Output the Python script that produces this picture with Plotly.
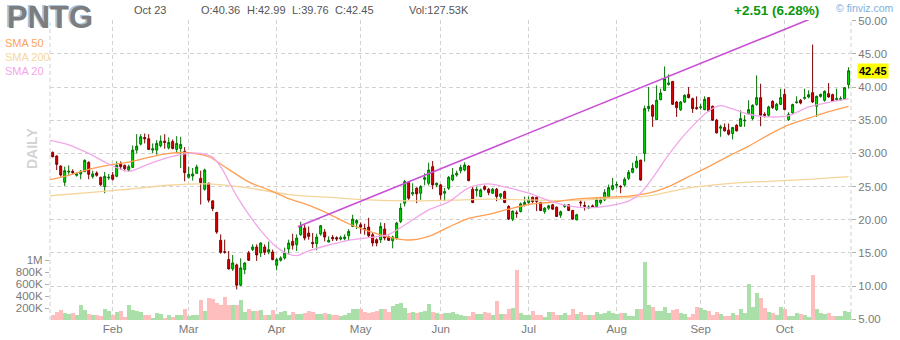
import plotly.graph_objects as go

# ---------------- data ----------------
month_labels = ["Feb", "Mar", "Apr", "May", "Jun", "Jul", "Aug", "Sep", "Oct"]
month_start_idx = [15, 34, 56, 77, 97, 119, 141, 162, 183]

opens = [30.15, 29.6, 28.1, 25.65, 27.2, 27.3, 26.7, 26.9, 27.25, 28.65,
         26.5, 27.05, 26.4, 25.0, 26.3, 26.75, 26.55, 28.45, 28.2, 27.5,
         27.9, 30.5, 31.4, 32.4, 32.2, 30.5, 30.5, 31.15, 31.85, 30.85,
         31.8, 30.6, 30.75, 30.3, 26.4, 26.6, 27.0, 26.25, 24.6, 25.5,
         22.85, 21.1, 16.9, 15.2, 14.0, 12.6, 13.2, 10.15, 12.5, 15.0,
         15.5, 15.9, 15.0, 15.9, 15.15, 15.15, 13.15, 13.9, 14.25, 15.6,
         16.75, 16.25, 17.75, 18.75, 18.0, 16.6, 16.4, 17.85, 18.15, 16.65,
         17.35, 17.3, 17.1, 17.15, 17.6, 19.0, 19.5, 19.25, 18.7, 18.9,
         17.75, 17.0, 17.0, 18.6, 17.4, 16.85, 17.25, 19.75, 22.5, 25.6,
         23.9, 24.75, 24.0, 26.1, 25.5, 28.0, 25.25, 25.25, 24.0, 24.75,
         26.0, 26.75, 27.4, 27.5, 28.1, 24.6, 24.4, 23.5, 25.0, 24.6,
         24.0, 24.6, 23.5, 24.25, 22.0, 20.1, 21.05, 21.25, 22.25, 22.6,
         23.4, 23.4, 22.6, 21.25, 21.75, 22.25, 21.9, 20.7, 22.0, 22.25,
         21.4, 20.0, 22.65, 22.15, 21.8, 22.1, 22.0, 22.6, 23.0, 23.5,
         24.6, 25.2, 25.05, 25.25, 26.25, 27.15, 27.9, 29.0, 30.0, 36.75,
         37.25, 35.1, 38.1, 39.5, 40.4, 40.85, 37.75, 36.6, 37.75, 38.9,
         38.25, 36.9, 36.9, 36.6, 38.4, 37.1, 35.0, 33.8, 33.9, 33.5,
         33.0, 34.25, 34.1, 34.9, 36.0, 35.25, 37.35, 38.4, 35.9, 35.75,
         37.85, 36.6, 37.4, 38.9, 35.1, 36.1, 37.65, 38.0, 38.3, 38.5,
         39.15, 37.1, 38.6, 38.0, 39.0, 38.85, 38.1, 38.1, 38.25, 40.36]

highs = [30.3, 29.7, 28.2, 28.0, 28.2, 27.6, 27.1, 27.5, 29.1, 28.8,
         27.4, 27.3, 26.5, 27.2, 26.9, 27.2, 28.8, 28.8, 28.3, 28.3,
         31.2, 32.9, 32.9, 33.0, 32.9, 31.5, 32.0, 32.7, 32.9, 32.4,
         32.1, 32.6, 32.5, 30.95, 28.0, 27.8, 28.3, 27.4, 27.7, 25.6,
         22.9, 21.2, 17.8, 17.0, 15.3, 14.7, 13.4, 14.2, 13.6, 15.3,
         16.3, 16.3, 16.6, 16.3, 16.7, 15.5, 14.3, 14.5, 15.8, 17.0,
         17.9, 17.8, 19.7, 19.2, 19.0, 18.0, 17.9, 19.2, 18.6, 17.5,
         17.7, 17.5, 17.6, 17.8, 18.6, 20.75, 20.1, 19.6, 19.4, 20.3,
         18.0, 17.2, 19.6, 19.5, 17.6, 17.6, 19.7, 22.5, 26.0, 25.8,
         25.5, 24.9, 25.2, 27.0, 28.6, 28.85, 25.6, 25.4, 24.8, 26.6,
         27.8, 27.4, 28.3, 28.65, 28.2, 25.0, 25.0, 24.7, 25.2, 24.8,
         24.8, 24.8, 24.0, 24.4, 22.2, 21.4, 21.4, 22.6, 23.5, 23.5,
         23.5, 23.5, 22.7, 21.9, 22.25, 22.4, 22.0, 21.4, 22.4, 22.3,
         21.5, 20.9, 23.0, 22.75, 22.2, 22.3, 23.3, 23.3, 24.6, 25.3,
         26.3, 25.75, 25.2, 26.4, 27.5, 28.6, 29.6, 29.0, 37.2, 40.0,
         37.4, 40.25, 39.75, 43.1, 41.9, 40.9, 37.9, 37.9, 38.9, 40.0,
         38.4, 38.6, 37.5, 38.6, 38.5, 37.2, 35.2, 34.3, 34.5, 34.5,
         34.0, 34.4, 36.5, 35.75, 38.0, 37.4, 41.75, 40.5, 36.2, 37.2,
         38.0, 37.6, 39.75, 39.75, 36.2, 37.5, 38.6, 38.2, 39.75, 39.5,
         46.4, 38.7, 39.0, 39.5, 40.6, 39.0, 39.75, 38.6, 40.0, 42.99]

lows = [29.4, 27.5, 26.5, 25.1, 26.8, 26.9, 26.5, 26.1, 27.2, 26.1,
        26.2, 26.5, 25.1, 24.0, 26.0, 25.9, 26.4, 27.5, 27.3, 27.2,
        27.8, 30.0, 31.2, 31.5, 30.5, 30.0, 29.8, 30.9, 30.7, 30.6,
        30.6, 30.1, 27.8, 25.8, 26.2, 25.9, 26.9, 22.3, 24.4, 22.6,
        21.3, 17.9, 14.9, 14.9, 12.5, 12.3, 9.5, 10.0, 11.8, 13.8,
        15.3, 13.8, 14.4, 14.7, 14.8, 13.9, 12.4, 13.7, 14.0, 14.8,
        15.5, 15.3, 17.6, 16.9, 17.0, 15.75, 15.4, 17.6, 16.75, 16.6,
        16.8, 16.8, 16.9, 16.9, 16.8, 18.9, 18.6, 17.9, 17.75, 17.3,
        16.0, 16.0, 16.5, 16.9, 16.8, 15.7, 17.0, 19.5, 22.0, 23.0,
        23.6, 22.5, 23.0, 25.2, 25.2, 24.6, 24.9, 23.0, 22.8, 24.5,
        25.8, 26.5, 27.0, 27.3, 25.8, 22.5, 23.5, 23.4, 24.4, 23.7,
        23.9, 22.8, 23.1, 22.5, 20.0, 19.8, 20.3, 21.1, 22.0, 22.4,
        22.5, 21.3, 21.3, 20.9, 21.5, 21.5, 20.4, 20.3, 21.8, 21.3,
        20.0, 19.9, 22.0, 21.4, 21.6, 21.8, 21.9, 22.3, 22.8, 23.4,
        24.4, 24.75, 24.0, 25.0, 26.0, 27.0, 27.7, 25.9, 28.75, 36.3,
        34.0, 35.0, 38.0, 39.4, 40.2, 37.3, 35.5, 36.4, 37.6, 38.3,
        36.1, 36.6, 36.6, 36.5, 36.3, 34.9, 33.0, 32.5, 33.3, 32.7,
        32.1, 33.3, 34.0, 34.0, 35.9, 35.0, 37.2, 34.1, 35.4, 35.5,
        36.7, 36.4, 37.3, 36.5, 34.9, 35.9, 37.5, 37.4, 38.1, 38.3,
        37.6, 35.5, 38.4, 37.8, 38.4, 37.8, 37.9, 37.9, 38.1, 39.76]

closes = [29.5, 28.35, 26.75, 27.4, 27.3, 27.1, 26.9, 27.2, 28.95, 26.85,
          26.9, 26.7, 25.3, 26.55, 26.4, 26.1, 28.2, 28.0, 27.7, 28.0,
          30.5, 31.1, 32.5, 32.2, 30.6, 30.7, 31.5, 31.85, 31.65, 31.65,
          30.75, 31.5, 31.35, 27.1, 26.85, 26.9, 27.95, 25.6, 27.5, 22.95,
          21.7, 18.15, 15.1, 15.1, 12.6, 13.5, 10.15, 12.75, 13.5, 13.9,
          15.9, 14.7, 16.5, 15.1, 15.5, 14.0, 14.0, 14.25, 15.0, 16.5,
          16.15, 17.25, 19.1, 17.25, 17.5, 16.4, 17.4, 19.1, 17.4, 16.9,
          17.15, 17.1, 17.3, 17.4, 18.25, 20.1, 19.9, 18.9, 18.5, 17.6,
          16.5, 16.5, 19.0, 17.25, 16.9, 17.4, 19.5, 21.75, 25.75, 23.25,
          24.1, 23.9, 25.0, 26.35, 27.5, 25.25, 25.5, 23.75, 24.25, 26.4,
          26.75, 27.0, 27.9, 28.25, 25.9, 22.6, 24.6, 24.5, 24.6, 24.1,
          24.6, 23.5, 23.9, 22.6, 20.1, 21.3, 20.95, 22.4, 22.6, 23.0,
          22.75, 22.75, 21.4, 21.75, 22.1, 21.6, 20.5, 21.2, 22.15, 21.4,
          20.1, 20.75, 22.55, 22.05, 21.9, 21.9, 23.0, 23.0, 24.1, 24.85,
          25.15, 25.3, 24.95, 26.1, 27.15, 27.75, 28.85, 26.0, 36.75, 37.1,
          35.6, 38.0, 39.1, 41.25, 40.6, 37.4, 36.9, 37.75, 38.75, 38.4,
          36.75, 36.75, 37.0, 38.15, 36.4, 35.0, 33.1, 34.0, 33.4, 32.9,
          33.9, 33.4, 35.25, 35.0, 36.6, 37.25, 38.4, 35.75, 35.75, 37.0,
          36.9, 37.4, 38.4, 36.6, 35.85, 37.35, 37.75, 37.6, 38.4, 38.85,
          37.75, 38.6, 38.9, 39.35, 38.5, 37.9, 38.25, 38.25, 39.9, 42.45]

volume_k = [83, 139, 167, 111, 100, 111, 83, 250, 167, 100,
            83, 78, 67, 178, 156, 83, 139, 156, 56, 250,
            167, 150, 133, 78, 83, 33, 111, 94, 33, 78,
            56, 78, 78, 183, 67, 78, 78, 333, 150, 367,
            344, 289, 250, 389, 250, 244, 244, 333, 128, 178,
            156, 150, 167, 89, 89, 167, 100, 139, 150, 83,
            133, 100, 100, 111, 150, 133, 100, 100, 111, 100,
            89, 83, 67, 89, 111, 178, 178, 178, 133, 111,
            133, 156, 178, 178, 133, 233, 261, 278, 200, 111,
            139, 111, 133, 156, 267, 133, 111, 100, 111, 111,
            133, 94, 78, 72, 72, 133, 94, 94, 133, 111,
            83, 317, 94, 100, 189, 200, 833, 111, 83, 83,
            150, 83, 83, 56, 133, 133, 78, 78, 111, 83,
            183, 100, 133, 78, 78, 83, 128, 100, 111, 144,
            122, 100, 122, 122, 67, 67, 183, 189, 970, 250,
            222, 156, 156, 222, 122, 167, 178, 111, 100, 44,
            100, 211, 200, 167, 156, 83, 139, 100, 67, 67,
            111, 83, 183, 122, 600, 222, 444, 361, 194, 139,
            111, 83, 211, 178, 67, 67, 122, 100, 83, 44,
            750, 178, 122, 100, 122, 67, 67, 67, 156, 128]

sma20_idx = [-1, 4, 9, 14, 19, 24, 29, 34, 37, 40, 42, 44, 46, 49, 52, 55, 58, 61,
             64, 69, 74, 79, 84, 89, 94, 99, 104, 109, 114, 119, 124, 129, 134,
             139, 144, 147, 150, 154, 159, 164, 167, 170, 174, 179, 184, 189, 194, 199]
sma20_val = [32.0, 31.3, 30.0, 28.4, 27.3, 28.4, 29.4, 30.0, 30.0, 29.4, 28.0, 25.8,
             23.6, 20.8, 18.4, 16.4, 15.1, 14.6,
             15.3, 16.2, 16.9, 17.3, 17.8, 19.6, 21.5, 22.7, 24.8, 25.4, 24.8, 24.0,
             22.9, 22.1, 21.8, 22.1, 22.8, 24.0, 26.3, 29.8, 33.5, 36.4, 37.2, 36.7,
             35.9, 35.5, 35.7, 37.0, 37.7, 38.2]

sma50_idx = [-1, 4, 9, 14, 19, 24, 29, 34, 39, 44, 49, 54, 59, 64, 69, 74, 79, 84,
             89, 94, 99, 104, 109, 114, 119, 124, 129, 134, 139, 144, 149, 154,
             159, 164, 169, 174, 179, 184, 189, 194, 199]
sma50_val = [26.0, 26.7, 27.6, 28.25, 28.7, 29.4, 30.0, 30.1, 29.5, 27.6, 25.7, 24.5,
             23.2, 22.2, 20.9, 19.4, 18.3, 17.4, 16.95, 17.5, 18.9, 20.2, 20.8, 21.6,
             22.3, 22.6, 23.0, 23.25, 23.4, 23.55, 24.0, 25.0, 26.5, 28.0, 29.6, 31.1,
             32.8, 34.3, 35.3, 36.3, 37.1]

sma200_idx = [-1, 9, 19, 29, 39, 49, 59, 69, 79, 89, 99, 109, 119, 129, 139, 149,
              159, 169, 179, 189, 199]
sma200_val = [23.6, 24.1, 24.6, 25.2, 25.4, 24.8, 23.8, 23.4, 23.0, 22.85, 22.95,
              23.1, 23.0, 22.9, 23.2, 23.6, 24.8, 25.45, 25.8, 26.1, 26.5]

trend_idx = [61.3, 199]
trend_val = [18.96, 52.6]

price_ticks = [5, 10, 15, 20, 25, 30, 35, 40, 45, 50]
vol_ticks_k = [200, 400, 600, 800, 1000]
vol_tick_labels = ["200K", "400K", "600K", "800K", "1M"]

last_close = closes[-1]

# ---------------- figure ----------------
FONT = "Arial, 'Liberation Sans', Helvetica, sans-serif"
W, H = 900, 340
ML, MR, MT, MB = 50, 49, 20, 20
PW, PH = W - ML - MR, H - MT - MB


def px(x):
    return (x - ML) / PW


def py(y):
    return (H - MB - y) / PH


bar_x = list(range(len(opens)))
vol_colors = ["#aadfaa" if c >= o else "#ffbebe" for o, c in zip(opens, closes)]

fig = go.Figure()
fig.add_trace(go.Bar(x=bar_x, y=[v * 1000 for v in volume_k], yaxis="y",
                     marker=dict(color=vol_colors, line=dict(width=0)),
                     hoverinfo="skip"))
fig.add_trace(go.Scatter(x=sma200_idx, y=sma200_val, mode="lines", yaxis="y2",
                         line=dict(color="#f5d49a", width=1.3, shape="spline", smoothing=0.8)))
fig.add_trace(go.Scatter(x=sma50_idx, y=sma50_val, mode="lines", yaxis="y2",
                         line=dict(color="#ff9f55", width=1.3, shape="spline", smoothing=0.8)))
fig.add_trace(go.Scatter(x=sma20_idx, y=sma20_val, mode="lines", yaxis="y2",
                         line=dict(color="#f2a6ea", width=1.3, shape="spline", smoothing=0.8)))
fig.add_trace(go.Scatter(x=trend_idx, y=trend_val, mode="lines", yaxis="y2",
                         line=dict(color="#c94fd6", width=1.6)))
fig.add_trace(go.Candlestick(
    x=bar_x, open=opens, high=highs, low=lows, close=closes, yaxis="y2",
    increasing=dict(line=dict(color="#006e00", width=1), fillcolor="#00e400"),
    decreasing=dict(line=dict(color="#7a0000", width=1), fillcolor="#e40000"),
    whiskerwidth=0, hoverinfo="skip"))

grid = dict(showgrid=True, gridcolor="#d2d2d2", gridwidth=1, griddash="4px,3px")

fig.update_layout(
    width=W, height=H, margin=dict(l=ML, r=MR, t=MT, b=MB, pad=0, autoexpand=False),
    paper_bgcolor="white", plot_bgcolor="white", showlegend=False,
    bargap=0, boxgap=0.3, boxgroupgap=0.3,
    font=dict(family=FONT, size=11, color="#7a7a7a"),
    xaxis=dict(range=[-0.675, 199.6], tickvals=month_start_idx, ticktext=month_labels,
               zeroline=False, showline=False, ticks="", fixedrange=True, automargin=False,
               rangeslider=dict(visible=False),
               tickfont=dict(size=11.5, color="#7a7a7a"), **grid),
    yaxis=dict(range=[0, 5_000_000], tickvals=[v * 1000 for v in vol_ticks_k],
               ticktext=vol_tick_labels, side="left", showgrid=False, zeroline=False,
               ticks="outside", ticklen=4, tickcolor="#b0b0b0", showline=False,
               automargin=False,
               tickfont=dict(size=11.5, color="#7a7a7a"), fixedrange=True),
    yaxis2=dict(overlaying="y", side="right", range=[4.9, 50.1], tickvals=price_ticks,
                ticktext=[f"{p:.2f}" for p in price_ticks], zeroline=False,
                ticks="outside", ticklen=4, tickcolor="#b0b0b0", showline=False,
                automargin=False,
                tickfont=dict(size=11.5, color="#7a7a7a"), fixedrange=True, **grid),
)

# plot-area side borders (dashed, like the grid)
for xb in (0, 1):
    fig.add_shape(type="line", xref="paper", yref="paper", x0=xb, x1=xb, y0=0, y1=1,
                  line=dict(color="#d2d2d2", width=1, dash="4px,3px"), layer="below")


def ann(text, x, y, size=11, color="#555555", bold=False, xanchor="left",
        yanchor="middle", angle=0, shadow=None):
    t = f"<b>{text}</b>" if bold else text
    font = dict(size=size, color=color, family=FONT)
    if shadow:
        font["shadow"] = shadow
    fig.add_annotation(text=t, x=px(x), y=py(y), xref="paper", yref="paper",
                       xanchor=xanchor, yanchor=yanchor, showarrow=False,
                       textangle=angle, font=font)


# ticker with faint blue shadow
ann("PNTG", 5, 17.5, size=31, color="#7d7d7d", bold=True, shadow="-2px -1px 0px #a9c4de")

ann("Oct 23", 132, 10.5, size=11, color="#555555")
ann("O:40.36", 199, 10.5, size=11, color="#555555")
ann("H:42.99", 245, 10.5, size=11, color="#555555")
ann("L:39.76", 290, 10.5, size=11, color="#555555")
ann("C:42.45", 333, 10.5, size=11, color="#555555")
ann("Vol:127.53K", 407, 10.5, size=11, color="#555555")
ann("+2.51 (6.28%)", 732, 10.5, size=13.5, color="#0c980c", bold=True)
ann("© finviz.com", 834, 8, size=10.5, color="#7db0e0")

ann("SMA 50", 3, 43, size=11, color="#ffa25a")
ann("SMA 200", 3, 57, size=11, color="#f5d7a0")
ann("SMA 20", 3, 71, size=11, color="#f2a6ea")

ann("DAILY", 32, 149, size=14, color="#d4d4d4", bold=True, xanchor="center", angle=-90)

fig.add_annotation(text=f"<b>{last_close:.2f}</b>", x=px(857), y=last_close,
                   xref="paper", yref="y2", xanchor="left", yanchor="middle",
                   showarrow=False, bgcolor="#ffff00", borderpad=1,
                   font=dict(size=11, color="#000000", family=FONT))

fig.write_html("out.html")
